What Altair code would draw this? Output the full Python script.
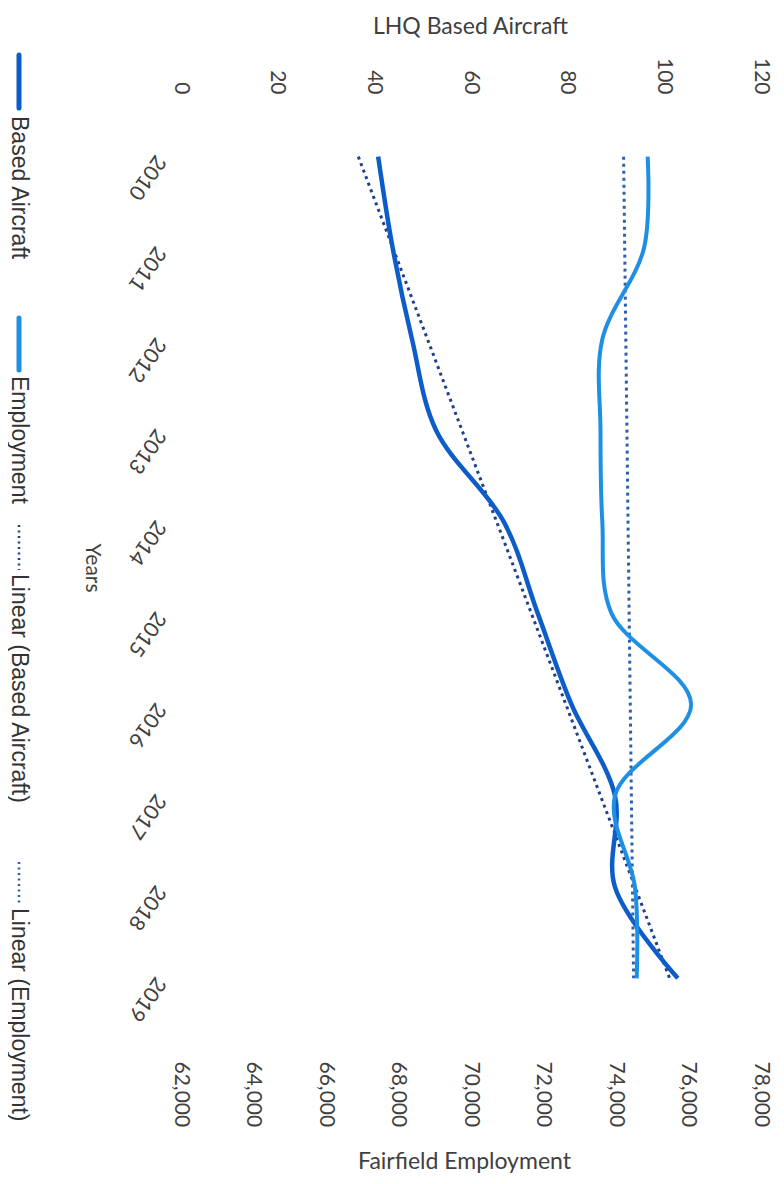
import altair as alt
import pandas as pd

# ---- data ----
years = [2010, 2011, 2012, 2013, 2014, 2015, 2016, 2017, 2018, 2019]
based_aircraft = [41, 44, 48, 53, 67, 74, 81, 90, 90, 103]
employment = [74900, 74800, 73650, 73600, 73650, 73900, 76100, 74000, 74550, 74600]

aircraft_ticks = [0, 20, 40, 60, 80, 100, 120]
employment_ticks = [62000, 64000, 66000, 68000, 70000, 72000, 74000, 76000, 78000]

legend_labels = ["Based Aircraft", "Employment", "Linear (Based Aircraft)", "Linear (Employment)"]

# ---- styling / layout constants ----
C_AIR = "#0d5dc8"
C_EMP = "#1f8fe3"
C_AIR_TR = "#1e3f8c"
C_EMP_TR = "#2c5fae"
TXT = "#404040"
AX_FONT = "Lato"
LEG_FONT = "Liberation Sans"

W, H = 580, 913

df = pd.DataFrame({"year": years, "aircraft": based_aircraft, "employment": employment})
base = alt.Chart(df)

common_axis = dict(grid=False, domain=False, ticks=False, tickSize=0)

yenc = alt.Y(
    "year:Q",
    scale=alt.Scale(domain=[2009.5, 2019.5], reverse=True, nice=False, zero=False),
    axis=alt.Axis(
        values=years, format="d", orient="left",
        labelAngle=125, labelAlign="left", labelBaseline="middle", labelPadding=20,
        labelFontSize=21, labelFont=AX_FONT, labelColor=TXT,
        title="Years", titleAngle=90, titleX=-89, titleY=H / 2,
        titleAlign="center", titleBaseline="middle",
        titleFont=AX_FONT, titleFontSize=21, titleFontWeight="normal", titleColor=TXT,
        **common_axis,
    ),
)

x_air = alt.X(
    "aircraft:Q",
    scale=alt.Scale(domain=[0, 120], nice=False, zero=False),
    axis=alt.Axis(
        orient="top", values=aircraft_ticks, format="d",
        labelAngle=90, labelAlign="right", labelBaseline="middle", labelPadding=17,
        labelFontSize=21, labelFont=AX_FONT, labelColor=TXT,
        title="LHQ Based Aircraft", titleX=W / 2, titleY=-78, titleAngle=0,
        titleAlign="center", titleBaseline="alphabetic",
        titleFont=AX_FONT, titleFontSize=23, titleFontWeight="normal", titleColor=TXT,
        **common_axis,
    ),
)

x_emp = alt.X(
    "employment:Q",
    scale=alt.Scale(domain=[62000, 78000], nice=False, zero=False),
    axis=alt.Axis(
        orient="bottom", values=employment_ticks, format=",.0f",
        labelAngle=90, labelAlign="left", labelBaseline="middle", labelPadding=37,
        labelFontSize=21, labelFont=AX_FONT, labelColor=TXT,
        title="Fairfield Employment", titleX=W / 2 - 6, titleY=144, titleAngle=0,
        titleAlign="center", titleBaseline="alphabetic",
        titleFont=AX_FONT, titleFontSize=23, titleFontWeight="normal", titleColor=TXT,
        **common_axis,
    ),
)

air_line = base.mark_line(interpolate="catmull-rom", color=C_AIR, strokeWidth=4.5).encode(
    x=x_air, y=yenc, order=alt.Order("year:Q")
)
air_trend = base.transform_regression("year", "aircraft").mark_line(
    color=C_AIR_TR, strokeWidth=3, strokeDash=[3, 4]
).encode(x=x_air, y=yenc, order=alt.Order("year:Q"))

emp_line = base.mark_line(interpolate="catmull-rom", color=C_EMP, strokeWidth=4).encode(
    x=x_emp, y=yenc, order=alt.Order("year:Q")
)
emp_trend = base.transform_regression("year", "employment").mark_line(
    color=C_EMP_TR, strokeWidth=3, strokeDash=[3, 4]
).encode(x=x_emp, y=yenc, order=alt.Order("year:Q"))

air_group = alt.layer(air_trend, air_line)
emp_group = alt.layer(emp_trend, emp_line)

# ---- hand-made vertical legend (rotated text) ----
LEG_X = -161
leg_sym = [(-56, -3), (207, 259), (414, 459), (751, 794)]
leg_txt_y = [5, 265, 463, 797]
leg_colors = [C_AIR, C_EMP, C_AIR_TR, C_EMP_TR]
leg_dashed = [False, False, True, True]

legend_layers = []
for lab, (s0, s1), ty, col, dashed in zip(legend_labels, leg_sym, leg_txt_y, leg_colors, leg_dashed):
    ldf = pd.DataFrame({"label": [lab]})
    if dashed:
        sym = alt.Chart(ldf).mark_rule(color=col, strokeWidth=2.5, strokeDash=[2, 3.5])
    else:
        sym = alt.Chart(ldf).mark_rule(color=col, strokeWidth=5, strokeCap="round")
    legend_layers.append(
        sym.encode(x=alt.value(LEG_X), y=alt.value(s0), y2=alt.value(s1))
    )
    legend_layers.append(
        alt.Chart(ldf).mark_text(
            angle=90, align="left", baseline="middle", font=LEG_FONT, fontSize=23, color="#333333"
        ).encode(text="label:N", x=alt.value(LEG_X), y=alt.value(ty))
    )

chart = (
    alt.layer(air_group, emp_group, *legend_layers)
    .resolve_scale(x="independent")
    .properties(
        width=W, height=H,
        autosize=alt.AutoSizeParams(type="none"),
        padding={"left": 172, "top": 103, "right": 16, "bottom": 152},
        background="white",
    )
    .configure_view(stroke=None)
    .configure_axis(grid=False, domain=False, ticks=False)
)

chart.save("out.html", embed_options={"renderer": "svg", "actions": False})
